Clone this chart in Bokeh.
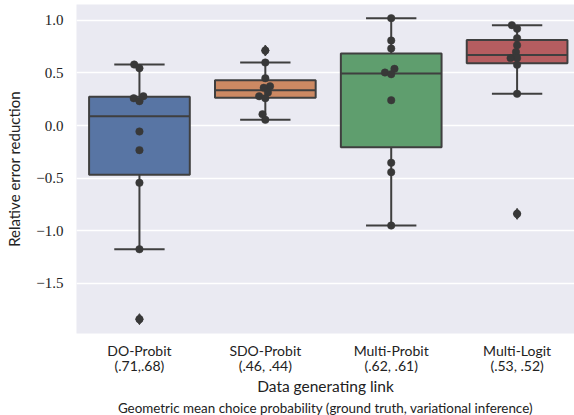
import numpy as np
from bokeh.plotting import figure
from bokeh.models import ColumnDataSource, FixedTicker, Title, Range1d
from bokeh.embed import file_html
from bokeh.resources import INLINE

categories = ["DO-Probit", "SDO-Probit", "Multi-Probit", "Multi-Logit"]
probabilities = ["(.71,.68)", "(.46, .44)", "(.62, .61)", "(.53, .52)"]
do_probit = [0.579, 0.544, 0.259, 0.231, 0.278, -0.057, -0.234, -0.544, -1.175, -1.839]
sdo_probit = [0.712, 0.598, 0.449, 0.373, 0.358, 0.313, 0.278, 0.259, 0.107, 0.054]
multi_probit = [1.019, 0.807, 0.731, 0.538, 0.503, 0.487, 0.240, -0.354, -0.443, -0.950]
multi_logit = [0.953, 0.918, 0.829, 0.763, 0.698, 0.640, 0.640, 0.576, 0.301, -0.839]
y_ticks = [-1.5, -1.0, -0.5, 0.0, 0.5, 1.0]
box_colors = ["#5875A4", "#CC8963", "#5F9E6E", "#B55D60"]
x_title = "Data generating link"
x_subtitle = "Geometric mean choice probability (ground truth, variational inference)"
y_title = "Relative error reduction"

series = [do_probit, sdo_probit, multi_probit, multi_logit]

# layout constants
W, H = 574, 415
LEFT, TOP, BOTTOM = 76, 4, 82
x_range = Range1d(-0.5, 3.456)
y_range = Range1d(-1.975, 1.149)
frame_w = W - LEFT
frame_h = H - TOP - BOTTOM
PX_X = frame_w / (x_range.end - x_range.start)
PX_Y = frame_h / (y_range.end - y_range.start)

LINE = "#3f3f3f"
DOT = "#383838"


def swarm_offsets(vals, d=6.2):
    ys = np.asarray(vals, dtype=float) * PX_Y
    order = np.argsort(ys, kind="stable")
    placed = []
    offs = np.zeros(len(ys))
    for idx in order:
        y = ys[idx]
        neigh = [(px, py) for px, py in placed if abs(py - y) < d]
        cands = [0.0]
        for px, py in neigh:
            dy = y - py
            dx = np.sqrt(max(d * d - dy * dy, 0.0)) * 1.05
            cands += [px - dx, px + dx]
        cands = sorted(cands, key=lambda c: abs(c))
        chosen = cands[-1]
        for c in cands:
            if all((c - px) ** 2 + (y - py) ** 2 >= d * d - 1e-9 for px, py in neigh):
                chosen = c
                break
        placed.append((chosen, y))
        offs[idx] = chosen
    return offs / PX_X


box = dict(left=[], right=[], top=[], bottom=[], color=[])
med = dict(x0=[], x1=[], y=[])
wh = dict(x=[], y0=[], y1=[])
caps = dict(x0=[], x1=[], y=[])
fl = dict(x=[], y=[])
pts = dict(x=[], y=[])

for i, vals in enumerate(series):
    v = np.asarray(vals)
    q1, q2, q3 = np.percentile(v, [25, 50, 75])
    iqr = q3 - q1
    lo_f, hi_f = q1 - 1.5 * iqr, q3 + 1.5 * iqr
    inside = v[(v >= lo_f) & (v <= hi_f)]
    lo_w, hi_w = inside.min(), inside.max()
    box["left"].append(i - 0.4)
    box["right"].append(i + 0.4)
    box["top"].append(q3)
    box["bottom"].append(q1)
    box["color"].append(box_colors[i])
    med["x0"].append(i - 0.4)
    med["x1"].append(i + 0.4)
    med["y"].append(q2)
    wh["x"] += [i, i]
    wh["y0"] += [q3, q1]
    wh["y1"] += [hi_w, lo_w]
    caps["x0"] += [i - 0.2, i - 0.2]
    caps["x1"] += [i + 0.2, i + 0.2]
    caps["y"] += [hi_w, lo_w]
    for o in v[(v < lo_f) | (v > hi_f)]:
        fl["x"].append(i)
        fl["y"].append(o)
    offs = swarm_offsets(vals)
    for o, yv in zip(offs, vals):
        pts["x"].append(i + o)
        pts["y"].append(yv)

p = figure(width=W, height=H, x_range=x_range, y_range=y_range,
           output_backend="svg", toolbar_location=None,
           min_border_left=LEFT, min_border_right=0, min_border_top=TOP,
           min_border_bottom=BOTTOM)
p.background_fill_color = "#EAEAF2"
p.border_fill_color = "white"
p.outline_line_color = None

p.xgrid.grid_line_color = None
p.ygrid.grid_line_color = "white"
p.ygrid.grid_line_width = 1.3
p.ygrid.ticker = FixedTicker(ticks=y_ticks)

p.yaxis.ticker = FixedTicker(ticks=y_ticks)
p.yaxis.major_label_overrides = {t: (f"{t:.1f}").replace("-", "\u2212") for t in y_ticks}
p.xaxis.ticker = FixedTicker(ticks=list(range(len(categories))))
p.xaxis.major_label_overrides = {i: f"{c}\n{pr}" for i, (c, pr) in enumerate(zip(categories, probabilities))}

for ax in (p.xaxis[0], p.yaxis[0]):
    ax.axis_line_color = None
    ax.major_tick_line_color = None
    ax.minor_tick_line_color = None
    ax.major_tick_out = 0
    ax.major_tick_in = 0

p.yaxis.major_label_text_font = "Liberation Serif"
p.yaxis.major_label_text_font_size = "15px"
p.yaxis.major_label_text_color = "#222222"
p.yaxis.major_label_standoff = 13
p.yaxis.axis_label = y_title
p.yaxis.axis_label_text_font = "Lato"
p.yaxis.axis_label_text_font_style = "normal"
p.yaxis.axis_label_text_font_size = "15px"
p.yaxis.axis_label_text_color = "#222222"
p.yaxis.axis_label_standoff = 10

p.xaxis.major_label_text_font = "Lato"
p.xaxis.major_label_text_font_size = "14px"
p.xaxis.major_label_text_color = "#222222"
p.xaxis.major_label_standoff = 8
p.xaxis.major_label_text_line_height = 0.9
p.xaxis.axis_label = x_title
p.xaxis.axis_label_text_font = "Lato"
p.xaxis.axis_label_text_font_style = "normal"
p.xaxis.axis_label_text_font_size = "15.5px"
p.xaxis.axis_label_text_color = "#222222"
p.xaxis.axis_label_standoff = 0

sub = Title(text=x_subtitle, align="center", text_font="Lato", text_font_size="13.4px",
            text_font_style="normal", text_color="#222222", standoff=0, offset=0)
p.add_layout(sub, "below")

p.quad(left="left", right="right", top="top", bottom="bottom", source=ColumnDataSource(box),
       fill_color="color", line_color=LINE, line_width=2)
p.segment(x0="x", x1="x", y0="y0", y1="y1", source=ColumnDataSource(wh), line_color=LINE, line_width=2)
p.segment(x0="x0", x1="x1", y0="y", y1="y", source=ColumnDataSource(caps), line_color=LINE, line_width=2)
p.segment(x0="x0", x1="x1", y0="y", y1="y", source=ColumnDataSource(med), line_color=LINE, line_width=2)
p.scatter(x="x", y="y", source=ColumnDataSource(fl), marker="diamond", size=11,
          fill_color=LINE, line_color=LINE)
p.scatter(x="x", y="y", source=ColumnDataSource(pts), marker="circle", size=7.5,
          fill_color=DOT, line_color=DOT, line_width=0.5)

open("out.html", "w").write(file_html(p, INLINE))
